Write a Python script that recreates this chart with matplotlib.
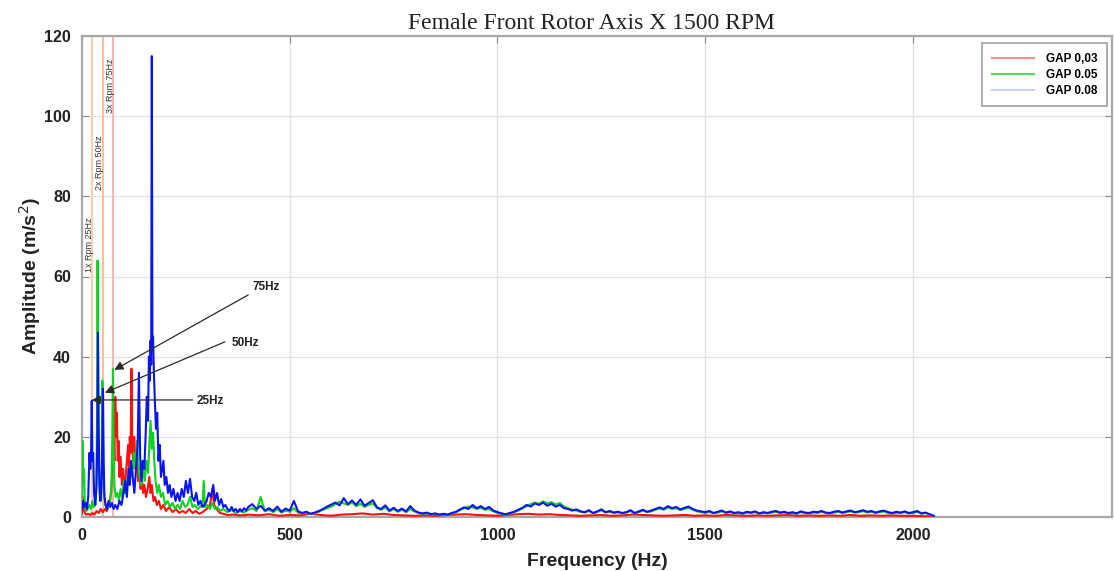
import numpy as np
import matplotlib
matplotlib.use('Agg')
import matplotlib.pyplot as plt
from matplotlib.lines import Line2D

# ---- spectrum data (Hz, m/s^2) ----
# low band: individual bins around the rotor harmonics
red_low_hz = [0, 2, 4, 7, 10, 15, 20, 25, 30, 35, 40, 45, 50, 55, 60, 65, 70, 73, 76, 78,
              80, 82, 84, 86, 88, 90, 93, 96, 99, 102, 105, 108, 111, 113, 115, 117, 119, 121, 123, 126,
              129, 132, 135, 138, 141, 144, 147, 150, 154, 158, 162, 165, 168, 172, 176, 180, 185, 190, 196, 202,
              210, 218, 226, 234, 242, 250, 258, 266, 274, 282, 290, 300, 308, 314, 318, 324, 332, 340, 350, 365,
              380, 395]
red_low_amp = [1, 5, 2, 1, 0.6, 0.8, 0.5, 1, 0.6, 1.5, 1, 2, 1.2, 2, 1.5, 3, 6, 12, 22, 14,
               30, 20, 26, 14, 19, 10, 15, 8, 12, 6, 10, 14, 18, 12, 20, 16, 37, 18, 14, 20,
               12, 16, 9, 12, 7, 10, 6, 8, 5, 7, 10, 6, 8, 4, 5, 3, 4, 2, 3, 1.5,
               2.5, 1.2, 2, 1, 1.5, 1, 2, 1, 1.5, 0.8, 1.2, 2, 3, 7, 3, 2, 1, 0.8, 0.5, 0.6,
               0.4, 0.5]

green_low_hz = [0, 1.5, 3, 5, 7, 10, 14, 18, 22, 25, 28, 31, 34, 36, 37.5, 39, 41, 43, 45, 47,
                49, 51, 53, 56, 60, 64, 68, 71, 73, 74.5, 76, 78, 81, 85, 89, 93, 97, 101, 105, 109,
                113, 117, 121, 125, 129, 132, 135, 139, 143, 147, 151, 155, 159, 162, 165, 168, 171, 174, 177, 181,
                185, 190, 195, 200, 206, 212, 218, 224, 230, 236, 242, 248, 254, 260, 266, 272, 278, 284, 290, 293,
                296, 302, 308, 314, 320, 326, 332, 340, 350, 360, 370, 380, 390]
green_low_amp = [3, 19, 8, 12, 3, 1.5, 2, 3, 2, 4, 2.5, 3, 6, 22, 64, 30, 12, 5, 4, 8,
                 34, 18, 6, 3, 2, 3, 4, 8, 20, 37, 18, 8, 5, 6, 4, 7, 5, 9, 6, 10,
                 8, 13, 10, 16, 12, 19, 14, 10, 8, 12, 9, 14, 11, 18, 24, 17, 21, 14, 9, 6,
                 8, 5, 6, 3, 4, 2.5, 3.5, 2, 3, 2, 4, 2.5, 3, 5, 2.5, 3, 2, 2.5, 3, 9,
                 2.5, 3, 2, 3.5, 2, 2.5, 1.5, 2, 1.2, 1.8, 1, 1.5, 1.1]

blue_low_hz = [0, 3, 6, 9, 12, 15, 18, 20, 22, 23.5, 25, 27, 29, 32, 35, 37, 38.5, 40, 42, 44,
               46, 48, 50.5, 52, 54, 57, 60, 64, 68, 72, 76, 80, 85, 90, 95, 100, 104, 108, 112, 115,
               118, 122, 126, 130, 134, 137, 140, 143, 146, 150, 153, 156, 159, 161, 163, 165, 166.5, 168, 169.5, 171,
               173, 175, 178, 181, 184, 187, 190, 193, 196, 199, 203, 207, 211, 215, 220, 225, 230, 235, 240, 245,
               250, 255, 260, 265, 270, 275, 280, 285, 290, 295, 300, 305, 310, 316, 320, 325, 330, 335, 340, 345,
               350, 355, 360, 365, 370, 375, 380, 385, 390, 395]
blue_low_amp = [2, 4, 2.5, 3.5, 2, 5, 16, 12, 17, 29, 14, 16, 6, 3, 8, 20, 46, 22, 8, 4,
                6, 12, 32, 14, 5, 3, 2, 4, 2.5, 3.5, 2, 3, 2, 4, 3, 6, 9, 5, 12, 8,
                14, 10, 6, 12, 18, 36, 15, 9, 14, 12, 20, 30, 24, 40, 34, 44, 38, 115, 42, 45,
                36, 30, 22, 26, 14, 18, 10, 12, 14, 8, 10, 6, 8, 5, 7, 4, 6, 4, 7, 5,
                9, 6, 9.5, 5, 4, 6, 3, 4, 2.5, 3, 4, 6, 5, 8, 4, 6, 3, 4.5, 2.5, 3,
                2, 1.5, 2.5, 1.5, 2, 1.2, 2, 1.4, 2.2, 1.6]

# high band: 400 Hz up to 2050 Hz (10 Hz bins, 25 Hz for the 0,03 gap)
red_high_amp = [0.6, 0.4, 0.7, 0.3, 0.5, 0.4, 0.8, 0.5, 0.3, 0.6,
                0.7, 0.9, 0.6, 0.8, 0.5, 0.4, 0.3, 0.4, 0.3, 0.5,
                0.6, 0.7, 0.5, 0.4, 0.3, 0.5, 0.7, 0.8, 0.6, 0.7,
                0.5, 0.4, 0.3, 0.4, 0.5, 0.3, 0.4, 0.6, 0.5, 0.4,
                0.3, 0.4, 0.5, 0.3, 0.4, 0.3, 0.5, 0.4, 0.3, 0.4,
                0.3, 0.4, 0.5, 0.3, 0.4, 0.3, 0.4, 0.3, 0.5, 0.3,
                0.4, 0.3, 0.4, 0.3, 0.3, 0.2, 0.1]

green_high_amp = [1.8, 2.2, 1.5, 5.0, 1.4, 1.8, 1.2, 2.0, 1.1, 1.6,
                  1.3, 2.2, 1.1, 0.9, 1.2, 0.7, 1.0, 1.3, 1.8, 2.2,
                  2.6, 3.2, 3.8, 3.4, 3.0, 3.7, 2.7, 3.3, 2.5, 3.0,
                  3.4, 2.2, 1.8, 2.4, 1.4, 2.0, 1.3, 1.8, 1.2, 2.0,
                  1.4, 1.0, 0.8, 0.9, 0.6, 0.8, 0.5, 0.7, 0.5, 0.9,
                  1.2, 1.7, 2.2, 2.6, 2.4, 2.0, 2.3, 1.8, 2.0, 1.4,
                  1.0, 0.8, 0.6, 0.9, 1.2, 1.6, 2.1, 2.7, 3.2, 3.6,
                  3.3, 3.9, 3.4, 3.7, 3.1, 3.5, 2.6, 2.2, 1.8, 1.6,
                  1.3, 1.1, 1.5, 0.9, 1.2, 1.7, 1.1, 1.3, 1.0, 1.2,
                  0.9, 1.1, 1.5, 0.9, 1.2, 1.6, 1.2, 1.4, 1.8, 2.1,
                  1.8, 2.4, 2.0, 2.2, 1.7, 2.0, 2.3, 1.8, 1.4, 1.2,
                  1.0, 1.3, 0.9, 1.1, 1.4, 1.0, 1.2, 0.9, 1.0, 0.8,
                  1.1, 1.0, 1.2, 0.8, 1.0, 0.9, 1.1, 1.3, 1.0, 1.1,
                  0.9, 1.0, 0.8, 1.2, 1.0, 0.9, 1.1, 1.0, 1.3, 1.0,
                  0.9, 1.1, 1.3, 1.0, 1.2, 1.4, 1.1, 1.2, 1.5, 1.1,
                  1.3, 1.0, 1.2, 1.4, 1.0, 0.9, 1.1, 1.0, 1.2, 0.9,
                  1.0, 1.3, 0.8, 1.0, 0.6, 0.2]

blue_high_amp = [2.5, 3.2, 2.0, 2.8, 1.6, 2.2, 1.5, 2.6, 1.3, 2.1,
                 1.6, 4.0, 1.4, 1.0, 1.3, 0.8, 1.1, 1.5, 2.0, 2.6,
                 3.1, 3.6, 2.9, 4.7, 3.2, 4.1, 3.0, 4.4, 2.8, 3.5,
                 4.2, 2.4, 2.0, 2.9, 1.6, 2.3, 1.5, 2.1, 1.4, 2.7,
                 1.6, 1.1, 0.9, 1.1, 0.7, 0.9, 0.6, 0.8, 0.6, 1.0,
                 1.3, 1.9, 2.4, 2.0, 3.0, 2.2, 2.7, 2.0, 2.5, 1.6,
                 1.2, 0.9, 0.7, 1.0, 1.3, 1.8, 2.3, 3.0, 2.6, 3.4,
                 3.0, 3.6, 2.8, 3.3, 2.6, 3.0, 2.2, 2.0, 1.6, 1.9,
                 1.4, 1.2, 1.7, 1.0, 1.4, 1.9, 1.2, 1.5, 1.1, 1.3,
                 1.0, 1.2, 1.7, 1.0, 1.4, 1.8, 1.3, 1.6, 2.0, 2.4,
                 2.0, 2.7, 2.2, 2.5, 1.9, 2.3, 2.6, 2.0, 1.6, 1.4,
                 1.2, 1.5, 1.0, 1.3, 1.6, 1.1, 1.4, 1.0, 1.2, 0.9,
                 1.3, 1.1, 1.4, 0.9, 1.2, 1.0, 1.3, 1.5, 1.1, 1.3,
                 1.0, 1.2, 0.9, 1.4, 1.1, 1.0, 1.3, 1.2, 1.5, 1.1,
                 1.0, 1.3, 1.5, 1.1, 1.4, 1.6, 1.2, 1.4, 1.7, 1.3,
                 1.5, 1.1, 1.4, 1.6, 1.2, 1.0, 1.3, 1.1, 1.4, 1.0,
                 1.2, 1.5, 0.9, 1.1, 0.7, 0.3]

gap_labels = ['GAP 0,03', 'GAP 0.05', 'GAP 0.08']

# rotor harmonics (1500 RPM -> 25 Hz)
harm_hz = [25, 50, 75]
harm_labels = ['1x Rpm 25Hz', '2x Rpm 50Hz', '3x Rpm 75Hz']
harm_label_amp = [68, 88.5, 107.5]

# arrow callouts: tip (Hz, amp) and tail (Hz, amp)
call_labels = ['25Hz', '50Hz', '75Hz']
call_tip = [(23.3, 29.2), (55, 31), (77.7, 36.7)]
call_tail = [(266, 29.2), (344, 43.7), (400, 55.4)]
call_text = [(277, 28.9), (361, 43.3), (411, 57.3)]


def join_bands(low_hz, low_amp, high_amp, step):
    high_hz = 400 + step * np.arange(len(high_amp))
    return np.concatenate([low_hz, high_hz]), np.concatenate([low_amp, high_amp])


f_red, a_red = join_bands(red_low_hz, red_low_amp, red_high_amp, 25)
f_green, a_green = join_bands(green_low_hz, green_low_amp, green_high_amp, 10)
f_blue, a_blue = join_bands(blue_low_hz, blue_low_amp, blue_high_amp, 10)

plt.rcParams['font.family'] = ['Liberation Sans', 'DejaVu Sans']

fig = plt.figure(figsize=(11.14, 5.71), dpi=100)
ax = fig.add_axes([82/1114, 54/571, 1030/1114, 481/571])

# harmonic markers
harm_colors = ['#f9cfb2', '#f8c29e', '#f7b8ae']
for hz, col, lab, ya in zip(harm_hz, harm_colors, harm_labels, harm_label_amp):
    ax.axvline(hz, color=col, lw=1.5, zorder=1)
    ax.text(hz - 7.5, ya, lab, rotation=90, ha='center', va='center',
            fontsize=6.5, color='#333333', zorder=2)

ax.plot(f_red, a_red, color='#ff1010', lw=1.5, zorder=3)
ax.plot(f_green, a_green, color='#10d020', lw=1.5, zorder=4)
ax.plot(f_blue, a_blue, color='#0a14f0', lw=1.5, zorder=5)

for lab, tip, tail, tpos in zip(call_labels, call_tip, call_tail, call_text):
    ax.annotate('', xy=tip, xytext=tail,
                arrowprops=dict(arrowstyle='-|>', color='#2a2a2a', lw=0.9,
                                mutation_scale=13, shrinkA=0, shrinkB=0), zorder=6)
    ax.text(tpos[0], tpos[1], lab, ha='left', va='center', fontsize=8.5,
            fontweight='bold', color='#222222', zorder=6)

ax.set_xlim(0, 2479)
ax.set_ylim(0, 120)
ax.set_xticks([0, 500, 1000, 1500, 2000])
ax.set_yticks(np.arange(0, 121, 20))
ax.grid(True, color='#e2e2e2', lw=0.9)
ax.set_axisbelow(True)
ax.tick_params(direction='in', length=5, color='#8a8a8a', top=True, right=True,
               labelsize=11.5, pad=8)
for lab in ax.get_xticklabels() + ax.get_yticklabels():
    lab.set_fontweight('bold')
    lab.set_color('#222222')
for sp in ax.spines.values():
    sp.set_color('#a8a8a8')
    sp.set_linewidth(1.6)

ax.set_xlabel('Frequency (Hz)', fontsize=14, fontweight='bold', color='#222222', labelpad=7)
ax.set_ylabel('Amplitude (m/s$^2$)', fontsize=14, fontweight='bold', color='#222222', labelpad=1)
ax.set_title('Female Front Rotor Axis X 1500 RPM', fontsize=17, family='Liberation Serif',
             color='#222222', pad=5, x=0.495)

handles = [Line2D([], [], color=c, lw=1.5) for c in ['#f29090', '#4ade5a', '#c8d4f2']]
leg = ax.legend(handles, gap_labels, loc='upper right', bbox_to_anchor=(0.995, 0.985),
                borderaxespad=0, prop={'weight': 'bold', 'size': 8.5}, handlelength=3.6,
                fancybox=False, framealpha=1, edgecolor='#a0a0a0', borderpad=0.8,
                labelspacing=0.35, handletextpad=1.0)
leg.get_frame().set_linewidth(1.2)

fig.savefig('out.png', dpi=100, facecolor='white')
